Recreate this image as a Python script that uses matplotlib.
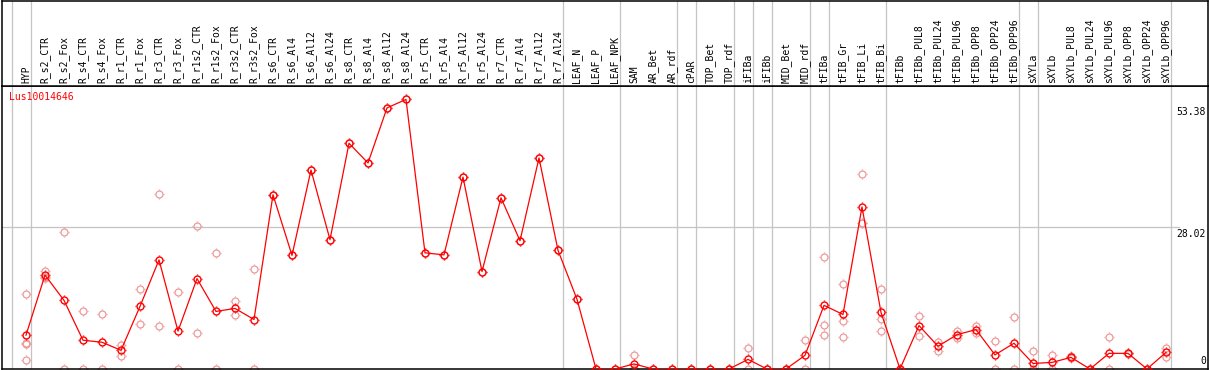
import numpy as np
from matplotlib import pyplot as plt
from matplotlib import transforms
from matplotlib.path import Path

# %% data
gene = "Lus10014646"

samples = [
    "HYP",
    "R_s2_CTR", "R_s2_Fox", "R_s4_CTR", "R_s4_Fox", "R_r1_CTR", "R_r1_Fox",
    "R_r3_CTR", "R_r3_Fox", "R_r1s2_CTR", "R_r1s2_Fox", "R_r3s2_CTR", "R_r3s2_Fox",
    "R_s6_CTR", "R_s6_Al4", "R_s6_Al12", "R_s6_Al24",
    "R_s8_CTR", "R_s8_Al4", "R_s8_Al12", "R_s8_Al24",
    "R_r5_CTR", "R_r5_Al4", "R_r5_Al12", "R_r5_Al24",
    "R_r7_CTR", "R_r7_Al4", "R_r7_Al12", "R_r7_Al24",
    "LEAF_N", "LEAF_P", "LEAF_NPK",
    "SAM", "AR_Bet", "AR_rdf",
    "cPAR",
    "TOP_Bet", "TOP_rdf",
    "iFIBa",
    "iFIBb",
    "MID_Bet", "MID_rdf",
    "tFIBa",
    "tFIB_Gr", "tFIB_Li", "tFIB_Bi",
    "tFIBb", "tFIBb_PUL8", "tFIBb_PUL24", "tFIBb_PUL96", "tFIBb_OPP8", "tFIBb_OPP24", "tFIBb_OPP96",
    "sXYLa",
    "sXYLb", "sXYLb_PUL8", "sXYLb_PUL24", "sXYLb_PUL96", "sXYLb_OPP8", "sXYLb_OPP24", "sXYLb_OPP96",
]

# how many samples in each block between the grey separators
group_sizes = [1, 28, 3, 3, 1, 2, 1, 1, 2, 1, 3, 7, 1, 7]

means = [
    6.7,
    18.6, 13.6, 5.7, 5.3, 3.7, 12.4, 21.6, 7.5, 17.9, 11.4, 12.0, 9.8,
    34.5, 22.5, 39.4, 25.6,
    44.7, 40.8, 51.7, 53.38,
    23.0, 22.6, 38.0, 19.3,
    33.9, 25.4, 41.8, 23.5,
    13.8, 0, 0,
    1.0, 0, 0,
    0,
    0, 0,
    1.9,
    0,
    0, 2.7,
    12.6,
    10.8, 32.1, 11.2,
    0, 8.6, 4.5, 6.8, 7.8, 2.8, 5.1,
    1.1,
    1.3, 2.3, 0, 3.1, 3.1, 0, 3.3,
]

replicates = [
    [14.9, 5.1, 4.9, 1.7],
    [19.5, 18.2, 18.1], [27.2, 0], [11.4, 0], [10.8, 0], [4.7, 2.6], [15.9, 8.9],
    [34.7, 8.5], [15.2, 0], [28.3, 7.2], [23.0, 0], [13.4, 10.6], [19.9, 0],
    [34.5], [22.5], [39.4], [25.6],
    [44.7], [40.8], [51.7], [53.38],
    [23.0], [22.6], [38.0], [19.3],
    [33.9], [25.4], [41.8], [23.5],
    [13.8], [0], [0],
    [2.8, 0, 0], [0], [0],
    [0],
    [0], [0],
    [4.1, 0],
    [0],
    [0], [5.7, 0],
    [22.1, 8.7, 6.8],
    [16.9, 9.6, 6.3], [38.6, 28.9, 28.9], [15.9, 10.0, 7.6],
    [0], [10.4, 6.6], [5.4, 3.6], [7.6, 6.1], [8.6, 7.2], [5.5, 0], [10.2, 0],
    [3.5, 0, 0],
    [2.7, 0], [2.5, 2.1], [0], [6.3, 0], [3.2, 3.0], [0], [4.2, 2.4],
]

scale_labels = ["53.38", "28.02", "0"]
scale_values = [53.38, 28.02, 0]

# %% little ticks sticking out of the circle markers
tick_marker = Path(
    [(0, 0.7), (0, 1.0), (0, -0.7), (0, -1.0), (0.7, 0), (1.0, 0), (-0.7, 0), (-1.0, 0)],
    [Path.MOVETO, Path.LINETO] * 4,
)


def circ_plot(ax, xs, ys, color, mew, z):
    ax.plot(xs, ys, linestyle="none", marker="o", ms=5.0, mfc="none",
            mec=color, mew=mew, zorder=z)
    ax.plot(xs, ys, linestyle="none", marker=tick_marker, ms=7.4,
            mec=color, mew=mew, zorder=z)


W, H = 1209, 370
fig = plt.figure(figsize=(W / 100, H / 100), dpi=100)
plt.rcParams["font.family"] = "DejaVu Sans Mono"

left_px, right_px = 1.5, 1207.5
top_px, split_px, bottom_px = 0.5, 85.5, 369.0
ax = fig.add_axes([left_px / W, (H - bottom_px) / H,
                   (right_px - left_px) / W, (bottom_px - split_px) / H])
hax = fig.add_axes([left_px / W, (H - split_px) / H,
                    (right_px - left_px) / W, (split_px - top_px) / H])

x = np.arange(len(samples))
step = 19.0
x0 = 26.0
xlim = ((left_px - x0) / step, (right_px - x0) / step)
px_per_unit = 5.05
ylim = (0, (bottom_px - split_px) / px_per_unit)

for a in (ax, hax):
    a.set_xlim(xlim)
    a.set_xticks([])
    a.set_yticks([])
    for s in a.spines.values():
        s.set_color("black")
        s.set_linewidth(1.1)
ax.set_ylim(ylim)
hax.set_ylim(0, 1)

# grey block separators through header and plot
ends = np.cumsum(group_sizes) - 1
seps = np.concatenate([[-1], ends]) + 4.5 / step
for a in (ax, hax):
    for s in seps:
        a.axvline(s, color="#c4c4c4", lw=0.9, zorder=0)

ax.axhline(scale_values[1], xmax=0.976, color="#c4c4c4", lw=0.9, zorder=0)

# replicates
for i, vals in enumerate(replicates):
    circ_plot(ax, [i] * len(vals), vals, "#ee9a9a", 0.9, 2)

# means
ax.plot(x, means, color="red", lw=0.9, zorder=3)
circ_plot(ax, x, means, "red", 1.0, 3)

# sample names
htrans = transforms.blended_transform_factory(hax.transData, hax.transAxes)
for i, name in enumerate(samples):
    hax.text(i, 0.03, name, rotation=90, ha="center", va="bottom",
             fontsize=7, transform=htrans)

ax.text(0.006, 0.977, gene, color="red", fontsize=7, ha="left", va="top",
        transform=ax.transAxes)

# scale labels on the right
rtrans = transforms.blended_transform_factory(ax.transAxes, ax.transData)
offsets = [-7.5, -1.5, 3]
for lbl, v, off in zip(scale_labels, scale_values, offsets):
    ax.annotate(lbl, xy=(1, v), xycoords=rtrans, xytext=(-1.5, off),
                textcoords="offset pixels", ha="right",
                va="bottom" if v == 0 else "top", fontsize=7)

fig.savefig("out.png", dpi=100)
